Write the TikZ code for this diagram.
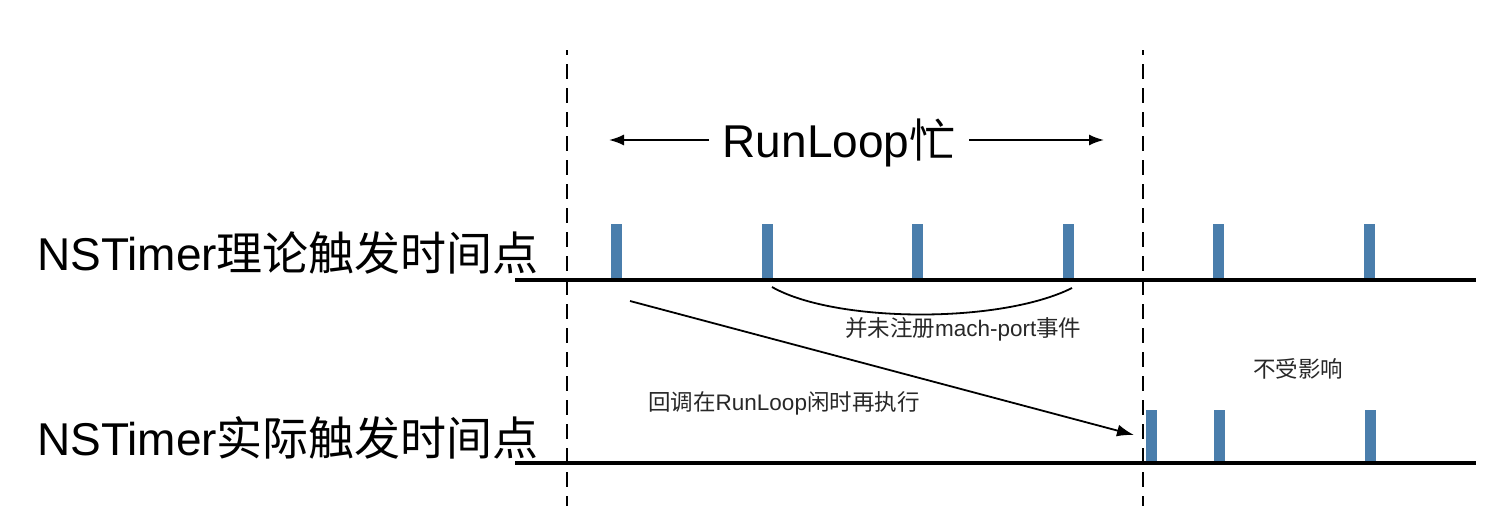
\documentclass[tikz,border=0pt]{standalone}
\usepackage{fontspec}
\setmainfont{Liberation Sans}
\newfontfamily\cjk{Noto Sans CJK SC}
\usetikzlibrary{arrows.meta}
\definecolor{tickblue}{RGB}{74,126,172}
\definecolor{txtgray}{RGB}{40,40,40}
\begin{document}
\begin{tikzpicture}[x=1pt,y=-1pt,
  timeline/.style={line width=4pt},
  guide/.style={line width=1.8pt, dash pattern=on 15pt off 9pt, dash phase=10pt},
  tickmark/.style={fill=tickblue, draw=none, inner sep=0pt, minimum width=11pt, anchor=south},
  bigtext/.style={inner sep=0pt, font=\fontsize{46}{52}\selectfont},
  smalltext/.style={inner sep=0pt, text=txtgray, font=\fontsize{22.5}{26}\selectfont, anchor=base west},
  arrowline/.style={line width=1.8pt, -{Latex[length=15pt,width=11pt]}},
  thinline/.style={line width=1.8pt}
]
\fill[white] (0,0) rectangle (1508,530);
\useasboundingbox (0,0) rectangle (1508,530);

% dashed guides
\coordinate (g1t) at (567,50);
\coordinate (g1b) at (567,506);
\coordinate (g2t) at (1143,50);
\coordinate (g2b) at (1143,506);
\draw[guide] (g1t) -- (g1b);
\draw[guide] (g2t) -- (g2b);

% ticks (theoretical)
\node[tickmark, minimum height=56pt] (t1) at (616.5,280) {};
\node[tickmark, minimum height=56pt] (t2) at (767,280) {};
\node[tickmark, minimum height=56pt] (t3) at (917.5,280) {};
\node[tickmark, minimum height=56pt] (t4) at (1068.5,280) {};
\node[tickmark, minimum height=56pt] (t5) at (1218.5,280) {};
\node[tickmark, minimum height=56pt] (t6) at (1369.5,280) {};

% ticks (actual)
\node[tickmark, minimum height=53pt] (a1) at (1151,463) {};
\node[tickmark, minimum height=53pt] (a2) at (1219,463) {};
\node[tickmark, minimum height=53pt] (a3) at (1370,463) {};

% timelines
\coordinate (l1s) at (515,280);
\coordinate (l1e) at (1476,280);
\coordinate (l2s) at (515,463);
\coordinate (l2e) at (1476,463);
\draw[timeline] (l1s) -- (l1e);
\draw[timeline] (l2s) -- (l2e);

% labels
\node[bigtext, anchor=base west] (lab1) at (37,270) {NSTimer{\cjk 理论触发时间点}};
\node[bigtext, anchor=base west] (lab2) at (37,455) {NSTimer{\cjk 实际触发时间点}};

% RunLoop busy
\node[bigtext, anchor=base] (busy) at (839,157) {RunLoop{\cjk 忙}};
\coordinate (bl0) at (709,140);
\coordinate (bl1) at (609,140);
\coordinate (br0) at (969,140);
\coordinate (br1) at (1104,140);
\draw[arrowline] (bl0) -- (bl1);
\draw[arrowline] (br0) -- (br1);

% curve under busy ticks
\coordinate (c1) at (772,287);
\coordinate (c2) at (1072,288);
\draw[thinline] (c1) .. controls (835,323) and (1000,324) .. (c2);
\node[smalltext] (mach) at (845,336) {{\cjk 并未注册}mach-port{\cjk 事件}};

% diagonal arrow
\coordinate (d0) at (630,301);
\coordinate (d1) at (1134,435);
\draw[line width=1.8pt, -{Latex[length=17pt,width=12pt]}] (d0) -- (d1);
\node[smalltext] (cb) at (648,410) {{\cjk 回调在}RunLoop{\cjk 闲时再执行}};

\node[smalltext] (noaff) at (1253,377) {{\cjk 不受影响}};
\end{tikzpicture}
\end{document}
